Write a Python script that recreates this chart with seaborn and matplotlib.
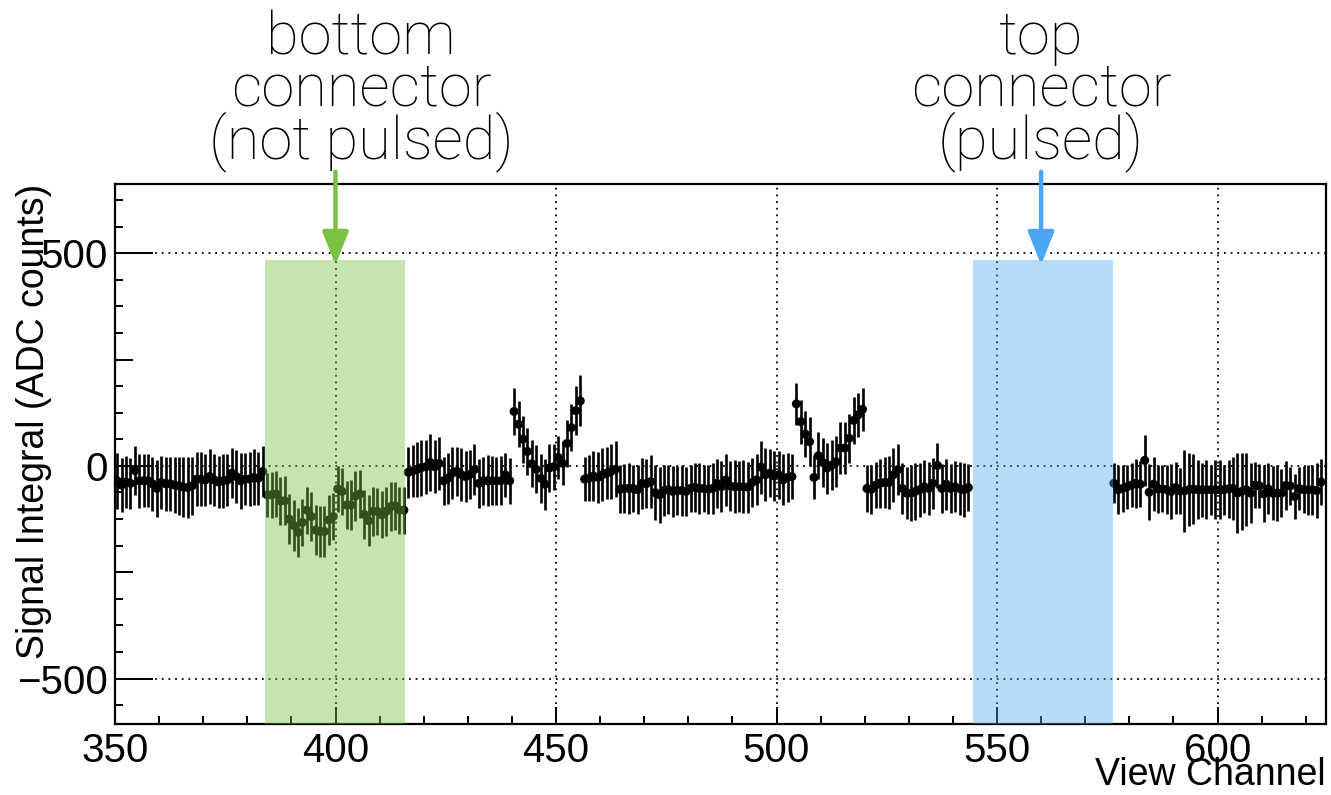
import numpy as np
import pandas as pd
import matplotlib
matplotlib.use("Agg")
import matplotlib.pyplot as plt
import seaborn as sns
from matplotlib.ticker import MultipleLocator

# ---------------- data ----------------
# channel segments (first channel of each run of consecutive channels)
seg_start = [350, 384, 416, 440, 456, 504, 520, 576]

sig_a = [-35, -45, -38, -41, -11, -35, -35, -35, -42, -53, -39, -42, -42, -45, -47, -50, -51,
         -47, -31, -31, -33, -25, -33, -38, -35, -33, -17, -25, -35, -31, -31, -27, -29, -13]
err_a = [66, 64, 62, 60, 58, 64, 62, 62, 64, 66, 62, 64, 64, 66, 68, 70, 72, 68, 64, 64,
         62, 64, 62, 62, 64, 62, 58, 62, 66, 62, 64, 66, 62, 60]

sig_b = [-68, -68, -66, -82, -82, -125, -140, -156, -133, -104, -119, -151, -154, -154, -127, -119,
         -54, -60, -92, -92, -71, -66, -114, -129, -107, -107, -115, -107, -96, -94, -104, -104]
err_b = [52, 54, 55, 56, 58, 58, 60, 58, 56, 55, 57, 58, 60, 60, 58, 56, 54, 55, 56, 58,
         58, 56, 58, 60, 58, 56, 55, 57, 58, 56, 55, 55]

sig_c = [-15, -12, -8, -4, -2, 8, -2, 6, -35, -29, -17, -13, -20, -25, -20, -9, -41, -35,
         -35, -35, -35, -35, -21, -35]
err_c = [60, 62, 64, 66, 64, 66, 62, 62, 56, 60, 62, 58, 62, 60, 58, 60, 58, 56, 60, 58,
         56, 58, 52, 54]

sig_d = [128, 98, 63, 34, 5, -8, -29, -43, -5, -2, 20, 6, 53, 90, 130, 153]
err_d = [55, 54, 55, 56, 55, 56, 58, 60, 56, 54, 50, 52, 55, 56, 58, 60]

sig_e = [-31, -29, -24, -27, -21, -17, -13, -8, -55, -53, -53, -53, -56, -41, -42, -37, -63, -68,
         -58, -56, -60, -58, -58, -60, -53, -50, -53, -53, -55, -53, -41, -49, -33, -47, -49, -49,
         -49, -50, -39, -33, -3, -21, -17, -24, -21, -33, -27, -25]
err_e = [52, 54, 58, 60, 62, 62, 64, 66, 56, 58, 60, 56, 58, 60, 58, 62, 64, 66, 60, 58,
         60, 58, 60, 58, 56, 58, 60, 56, 58, 60, 58, 60, 62, 58, 62, 60, 62, 60, 58, 60,
         62, 62, 56, 58, 56, 60, 58, 54]

sig_f = [146, 104, 75, 57, -27, 24, 8, -5, 2, 10, 42, 42, 65, 107, 120, 133]
err_f = [50, 52, 55, 57, 52, 55, 58, 60, 58, 60, 62, 62, 58, 56, 52, 50]

sig_g = [-53, -55, -45, -41, -39, -39, -21, -9, -53, -64, -64, -60, -56, -49, -53, -41, 1, -53,
         -43, -53, -49, -53, -56, -51]
err_g = [56, 58, 55, 58, 60, 62, 64, 60, 60, 62, 66, 68, 64, 62, 62, 60, 52, 58, 60, 58,
         60, 62, 64, 56]

sig_h = [-41, -56, -53, -49, -45, -41, -43, 13, -62, -43, -54, -54, -56, -60, -51, -59, -59, -56,
         -54, -56, -56, -56, -56, -56, -56, -56, -54, -53, -64, -60, -56, -64, -45, -47, -66, -54,
         -64, -64, -64, -46, -47, -72, -53, -56, -56, -56, -58, -38]
err_h = [47, 57, 55, 52, 52, 57, 54, 60, 66, 63, 57, 55, 57, 65, 61, 55, 96, 86, 82, 69,
         63, 69, 59, 69, 70, 59, 68, 75, 94, 90, 86, 70, 55, 52, 67, 60, 63, 65, 57, 58,
         45, 53, 51, 55, 59, 59, 65, 55]

signals = [sig_a, sig_b, sig_c, sig_d, sig_e, sig_f, sig_g, sig_h]
errors = [err_a, err_b, err_c, err_d, err_e, err_f, err_g, err_h]

green_span = (384.0, 415.8)    # bottom connector (not pulsed)
blue_span = (544.6, 576.3)     # top connector (pulsed)
box_top = 485
green_arrow_ch = 400
blue_arrow_ch = 560
arrow_from, arrow_to = 692, 473

x_ticks = [350, 400, 450, 500, 550, 600]
y_ticks = [-500, 0, 500]

GREEN = "#79C043"
BLUE = "#4DA6F5"

# ---------------- build table ----------------
rows = []
for start, sig, err in zip(seg_start, signals, errors):
    for i, (s, e) in enumerate(zip(sig, err)):
        rows.append({"channel": start + i, "signal": s, "err": e})
df = pd.DataFrame(rows)
df["x"] = df["channel"] + 0.5   # bin centres

# ---------------- figure ----------------
sns.set_theme(style="white")
plt.rcParams["font.family"] = ["Liberation Sans", "DejaVu Sans"]
plt.rcParams["axes.edgecolor"] = "black"
plt.rcParams["text.color"] = "black"
plt.rcParams["axes.labelcolor"] = "black"

W, H = 1331, 795
fig = plt.figure(figsize=(W / 100, H / 100), dpi=100)
ax = fig.add_axes([115 / W, 1 - 724 / H, (1326 - 115) / W, (724 - 184) / H])

ax.set_xlim(350, 624.6)
ax.set_ylim(-607, 663)

# grid (dotted, major ticks only)
for xv in x_ticks[1:]:
    ax.axvline(xv, color="black", lw=1.3, ls=(0, (1, 2.7)), zorder=1)
for yv in y_ticks:
    ax.axhline(yv, color="black", lw=1.3, ls=(0, (1, 2.7)), zorder=1)

ax.errorbar(df["x"], df["signal"], yerr=df["err"], fmt="none", ecolor="black",
            elinewidth=1.9, capsize=0, zorder=3)
sns.scatterplot(data=df, x="x", y="signal", color="black", s=42, edgecolor="none",
                linewidth=0, zorder=4, ax=ax, legend=False)

# shaded connector regions (drawn on top, semi-transparent)
ylo, yhi = ax.get_ylim()
frac = (box_top - ylo) / (yhi - ylo)
ax.axvspan(*green_span, ymin=0, ymax=frac, color=GREEN, alpha=0.42, lw=0, zorder=6)
ax.axvspan(*blue_span, ymin=0, ymax=frac, color=BLUE, alpha=0.40, lw=0, zorder=6)

# arrows
for ch, col in [(green_arrow_ch, GREEN), (blue_arrow_ch, BLUE)]:
    ax.annotate("", xy=(ch, arrow_to), xytext=(ch, arrow_from),
                arrowprops=dict(arrowstyle="-|>,head_width=0.4,head_length=1.0",
                                mutation_scale=20, lw=3.2, color=col,
                                shrinkA=0, shrinkB=0),
                annotation_clip=False, zorder=7)

# annotation texts
ann_font = dict(family=["Roboto", "Liberation Sans", "DejaVu Sans"], weight="light")
fig.text(361 / W, 1 - 91 / H, "bottom\nconnector\n(not pulsed)", ha="center", va="center",
         fontsize=43, linespacing=0.88, color="black", **ann_font)
fig.text(1041 / W, 1 - 91 / H, "top\nconnector\n(pulsed)", ha="center", va="center",
         fontsize=43, linespacing=0.88, color="black", **ann_font)

# ticks
ax.set_xticks(x_ticks)
ax.set_yticks(y_ticks)
ax.xaxis.set_minor_locator(MultipleLocator(10))
ax.yaxis.set_minor_locator(MultipleLocator(62.5))
ax.set_yticklabels(["\u2212500", "0", "500"])
ax.tick_params(axis="x", which="major", direction="in", length=12, width=1.4,
               labelsize=29, pad=6, bottom=True, top=False, colors="black")
ax.tick_params(axis="x", which="minor", direction="in", length=6, width=1.4,
               bottom=True, top=False, colors="black")
ax.tick_params(axis="y", which="major", direction="in", length=27, width=1.4,
               labelsize=29, pad=5, left=True, right=False, colors="black")
ax.tick_params(axis="y", which="minor", direction="in", length=6, width=1.4,
               left=True, right=False, colors="black")
sec = ax.secondary_yaxis("left")
sec.set_yticks([-250, 250])
sec.tick_params(direction="in", length=13, width=1.4, labelleft=False, colors="black")
sec.spines["left"].set_visible(False)

for sp in ax.spines.values():
    sp.set_linewidth(1.6)
    sp.set_color("black")

ax.set_xlabel("View Channel", fontsize=27, loc="right", color="black")
ax.xaxis.set_label_coords(1.0, -0.062)
ax.set_ylabel("Signal Integral (ADC counts)", fontsize=27, loc="top", color="black")
ax.yaxis.set_label_coords(-0.052, 1.0)

fig.savefig("out.png", dpi=100)
